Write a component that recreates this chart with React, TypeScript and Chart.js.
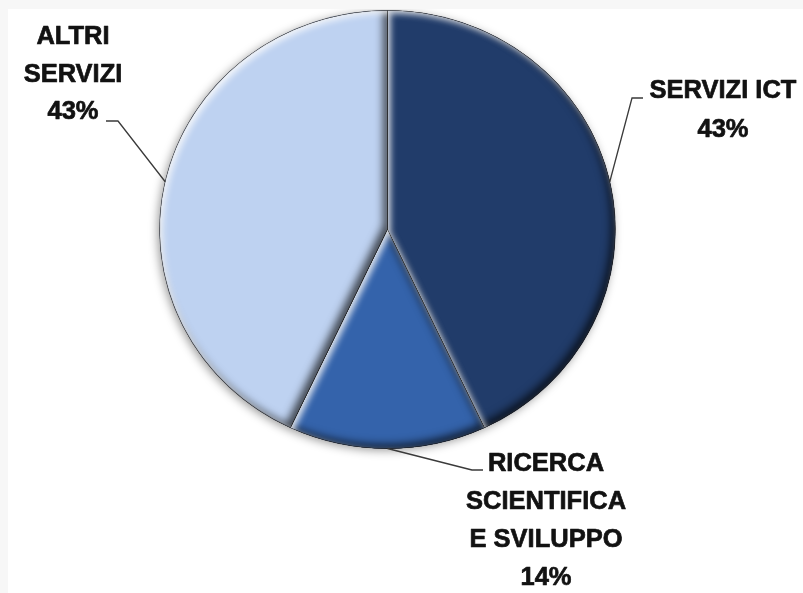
import React, { useEffect, useRef } from "react";
import { Chart, registerables } from "chart.js";

Chart.register(...registerables);

// ---- data ----
const categories = ["SERVIZI ICT", "RICERCA SCIENTIFICA E SVILUPPO", "ALTRI SERVIZI"];
const labelLines = [["SERVIZI ICT"], ["RICERCA", "SCIENTIFICA", "E SVILUPPO"], ["ALTRI", "SERVIZI"]];
const shares = [43, 14, 43];

// ---- styles ----
const sliceColors = ["#213c6a", "#3463ab", "#bed2f1"];
const W = 795;
const H = 584;
const X_STRETCH = 1.04;
// label placement (canvas px): text centre x, first baseline y, knee of leader, end of leader
const labelPlacement = [
  { cx: 715, y: 89, lineH: 39, knee: [624, 89], start: [635, 89] },
  { cx: 538, y: 462, lineH: 38, knee: [464, 461], start: [475, 461] },
  { cx: 65, y: 35, lineH: 37.5, knee: [110, 112], start: [98, 112] },
];

function arcPath(ctx: CanvasRenderingContext2D, a: any) {
  ctx.moveTo(a.x, a.y);
  ctx.arc(a.x, a.y, a.outerRadius, a.startAngle, a.endAngle);
  ctx.closePath();
}

function innerShadow(ctx: CanvasRenderingContext2D, a: any, color: string, blur: number, ox: number, oy: number) {
  ctx.save();
  ctx.beginPath();
  arcPath(ctx, a);
  ctx.clip();
  ctx.beginPath();
  ctx.rect(-3000, -3000, 7000, 7000);
  arcPath(ctx, a);
  ctx.shadowColor = color;
  ctx.shadowBlur = blur;
  ctx.shadowOffsetX = ox;
  ctx.shadowOffsetY = oy;
  ctx.fillStyle = "#000";
  ctx.fill("evenodd");
  ctx.restore();
}

const effectsPlugin = {
  id: "effects",
  beforeDatasetsDraw(chart: any) {
    const ctx: CanvasRenderingContext2D = chart.ctx;
    const arcs = chart.getDatasetMeta(0).data;
    if (!arcs.length) return;
    const a = arcs[0];
    ctx.save();
    // outer soft shadow
    ctx.save();
    ctx.beginPath();
    ctx.ellipse(a.x, a.y, a.outerRadius * X_STRETCH, a.outerRadius, 0, 0, Math.PI * 2);
    ctx.shadowColor = "rgba(0,0,0,0.4)";
    ctx.shadowBlur = 10;
    ctx.shadowOffsetX = -2;
    ctx.shadowOffsetY = 2;
    ctx.fillStyle = "#556";
    ctx.fill();
    ctx.restore();
    ctx.translate(a.x, a.y);
    ctx.scale(X_STRETCH, 1);
    ctx.translate(-a.x, -a.y);
  },
  afterDatasetsDraw(chart: any) {
    const ctx: CanvasRenderingContext2D = chart.ctx;
    const arcs = chart.getDatasetMeta(0).data;
    if (!arcs.length) return;
    arcs.forEach((a: any) => {
      innerShadow(ctx, a, "rgba(0,0,0,0.7)", 8, -4, -4);
      innerShadow(ctx, a, "rgba(255,255,255,0.85)", 6, 3, 3);
    });
    ctx.restore();
  },
  afterDraw(chart: any) {
    const ctx: CanvasRenderingContext2D = chart.ctx;
    const arcs = chart.getDatasetMeta(0).data;
    ctx.save();
    arcs.forEach((a: any, i: number) => {
      const p = labelPlacement[i];
      const mid = (a.startAngle + a.endAngle) / 2;
      const ax = a.x + Math.cos(mid) * a.outerRadius * X_STRETCH;
      const ay = a.y + Math.sin(mid) * a.outerRadius;
      ctx.strokeStyle = "#3a3a3a";
      ctx.lineWidth = 1.3;
      ctx.beginPath();
      ctx.moveTo(p.start[0], p.start[1]);
      ctx.lineTo(p.knee[0], p.knee[1]);
      ctx.lineTo(ax, ay);
      ctx.stroke();

      ctx.fillStyle = "#121212";
      ctx.strokeStyle = "#121212";
      ctx.lineWidth = 0.7;
      ctx.lineJoin = "round";
      ctx.font = "bold 25.5px 'Liberation Sans', Arial, sans-serif";
      ctx.textAlign = "center";
      ctx.textBaseline = "alphabetic";
      const lines = [...labelLines[i], `${shares[i]}%`];
      lines.forEach((t, k) => {
        ctx.fillText(t, p.cx, p.y + k * p.lineH);
        ctx.strokeText(t, p.cx, p.y + k * p.lineH);
      });
    });
    ctx.restore();
  },
};

export default function App() {
  const ref = useRef<HTMLCanvasElement>(null);
  useEffect(() => {
    document.documentElement.style.background = "#f7f7f7";
    document.documentElement.style.overflow = "hidden";
    document.body.style.margin = "9px 0 0 8px";
    document.body.style.overflow = "hidden";
    const chart = new Chart(ref.current!, {
      type: "pie",
      data: {
        labels: categories,
        datasets: [
          {
            data: shares,
            backgroundColor: sliceColors,
            borderColor: "rgba(15,25,45,0.55)",
            borderWidth: 1,
          },
        ],
      },
      options: {
        responsive: false,
        animation: false,
        layout: { padding: { left: 160, right: W - 160 - 439, top: 1, bottom: H - 1 - 439 } },
        plugins: { legend: { display: false }, tooltip: { enabled: false }, title: { display: false } },
      },
      plugins: [effectsPlugin],
    });
    return () => chart.destroy();
  }, []);
  return (
    <div style={{ width: W, height: H, background: "#ffffff" }}>
      <canvas ref={ref} width={W} height={H} style={{ display: "block" }} />
    </div>
  );
}
